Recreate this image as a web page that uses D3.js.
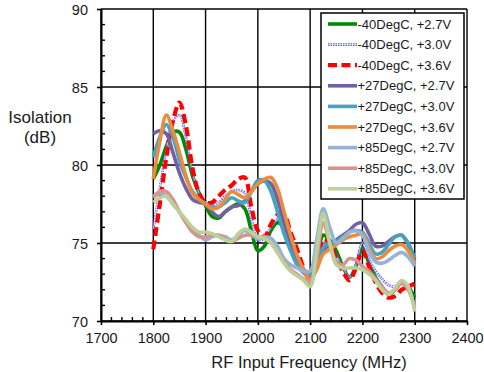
<!DOCTYPE html>
<html>
<head>
<meta charset="utf-8">
<script src="https://cdn.jsdelivr.net/npm/d3@7/dist/d3.min.js"></script>
<style>
  html, body { margin: 0; padding: 0; background: #fff; }
  svg { display: block; font-family: "Liberation Sans", Arial, sans-serif; }
</style>
</head>
<body>
<svg id="chart" width="484" height="372"></svg>
<script>
// Frequency sweep points (MHz)
const freq = [1800, 1812.5, 1825, 1837.5, 1850, 1862.5, 1875, 1887.5, 1900, 1912.5,
  1925, 1937.5, 1950, 1962.5, 1975, 1987.5, 2000, 2012.5, 2025, 2037.5,
  2050, 2062.5, 2075, 2087.5, 2100, 2112.5, 2125, 2137.5, 2150, 2162.5,
  2175, 2187.5, 2200, 2212.5, 2225, 2237.5, 2250, 2262.5, 2275, 2287.5, 2300];

// Isolation (dB) per temperature / supply condition
const m40_27 = [79.1, 80.0, 81.2, 82.1, 82.1, 81.0, 79.3, 78.2, 77.4, 76.7,
  76.6, 77.0, 77.3, 77.5, 77.2, 75.8, 74.5, 74.8, 75.8, 76.3,
  76.0, 75.2, 74.1, 73.3, 72.7, 73.8, 75.5, 75.2, 74.5, 73.5,
  72.8, 73.5, 74.7, 73.7, 72.8, 72.2, 71.7, 72.0, 72.5, 72.2, 71.5];
const m40_30 = [75.9, 78.5, 81.0, 82.8, 83.2, 81.8, 79.5, 78.2, 77.6, 77.4,
  77.6, 78.0, 78.3, 78.4, 78.2, 76.6, 75.2, 75.3, 76.0, 76.5,
  76.4, 75.4, 74.3, 73.3, 72.7, 73.5, 75.0, 74.9, 74.2, 73.5,
  72.8, 73.6, 75.0, 74.0, 73.2, 72.7, 72.3, 72.2, 72.4, 72.3, 72.3];
const m40_36 = [74.6, 77.5, 80.5, 82.8, 84.0, 82.5, 79.8, 78.2, 77.6, 77.6,
  78.0, 78.4, 78.7, 79.1, 79.2, 77.3, 75.8, 75.4, 76.2, 76.8,
  76.8, 75.7, 74.6, 73.4, 72.7, 73.5, 75.2, 75.0, 74.0, 73.2,
  72.6, 73.4, 74.5, 73.5, 72.5, 71.8, 71.5, 71.6, 72.0, 72.2, 72.4];
const p27_27 = [82.0, 82.2, 82.0, 80.8, 79.5, 78.5, 77.8, 77.6, 77.5, 77.0,
  76.7, 77.0, 77.3, 77.4, 77.7, 78.3, 78.8, 79.0, 78.8, 77.8,
  76.3, 75.0, 73.9, 73.1, 72.8, 73.5, 74.5, 74.9, 75.2, 75.5,
  75.8, 76.2, 76.3, 75.6, 74.8, 74.8, 75.1, 75.4, 75.5, 74.9, 73.9];
const p27_30 = [80.5, 81.8, 82.6, 81.8, 80.3, 79.2, 78.3, 77.8, 77.5, 77.3,
  77.3, 77.6, 77.9, 77.7, 77.6, 78.3, 79.0, 79.0, 78.3, 77.0,
  75.6, 74.5, 73.6, 73.1, 73.0, 73.8, 74.7, 75.0, 75.1, 75.4,
  75.7, 75.8, 75.7, 75.0, 74.3, 74.4, 74.9, 75.4, 75.5, 75.0, 74.0];
const p27_36 = [79.1, 81.5, 83.2, 82.2, 80.8, 79.3, 78.2, 77.8, 77.5, 77.2,
  77.3, 77.8, 78.3, 78.1, 77.9, 78.3, 78.8, 79.1, 79.2, 78.5,
  77.0, 75.5, 74.2, 73.3, 72.7, 73.3, 74.3, 74.6, 74.9, 75.2,
  75.4, 75.5, 75.6, 74.7, 74.0, 74.1, 74.5, 74.8, 74.9, 74.5, 73.7];
const p85_27 = [78.0, 78.2, 78.0, 77.5, 77.0, 76.4, 75.9, 75.5, 75.2, 75.4,
  75.5, 75.4, 75.2, 75.5, 75.8, 75.5, 75.3, 75.4, 75.3, 74.8,
  74.0, 73.6, 73.4, 73.2, 73.2, 75.2, 77.2, 76.0, 75.0, 75.3,
  75.7, 75.8, 75.5, 74.5, 73.8, 73.7, 73.9, 74.2, 74.4, 74.1, 73.5];
const p85_30 = [77.9, 78.3, 78.3, 77.8, 77.0, 76.3, 75.7, 75.4, 75.4, 75.5,
  75.5, 75.3, 75.1, 75.3, 75.5, 75.5, 75.4, 75.3, 75.0, 74.4,
  73.8, 73.3, 73.0, 72.7, 72.5, 74.0, 76.3, 75.0, 73.8, 73.6,
  74.0, 73.9, 73.5, 73.2, 72.7, 72.2, 71.8, 72.0, 72.4, 72.0, 70.9];
const p85_36 = [77.6, 77.9, 78.0, 77.5, 77.0, 76.5, 76.0, 75.7, 75.7, 75.6,
  75.4, 75.2, 75.1, 75.6, 75.9, 75.7, 75.4, 75.3, 75.0, 74.4,
  73.7, 73.2, 72.9, 72.6, 72.2, 74.5, 76.9, 75.0, 73.6, 73.4,
  73.4, 73.4, 73.3, 73.0, 72.6, 72.0, 71.7, 72.1, 72.6, 72.2, 70.6];

const seriesNames = ["-40DegC, +2.7V", "-40DegC, +3.0V", "-40DegC, +3.6V",
  "+27DegC, +2.7V", "+27DegC, +3.0V", "+27DegC, +3.6V",
  "+85DegC, +2.7V", "+85DegC, +3.0V", "+85DegC, +3.6V"];
const seriesValues = [m40_27, m40_30, m40_36, p27_27, p27_30, p27_36, p85_27, p85_30, p85_36];

const xTicks = [1700, 1800, 1900, 2000, 2100, 2200, 2300, 2400];
const yTicks = [70, 75, 80, 85, 90];

// Line styling for each series
const styles = [
  { color: "#008a00", width: 3.6 },
  { color: "#5a5aff", width: 2.6, dash: "1.6,0.9", dotted: true },
  { color: "#ff0000", width: 4.2, dash: "9,4.5" },
  { color: "#7460a0", width: 3.6 },
  { color: "#44a3bf", width: 3.6 },
  { color: "#e98c3f", width: 3.6 },
  { color: "#95b3d7", width: 3.6 },
  { color: "#d69593", width: 3.6 },
  { color: "#bcd198", width: 3.6 }
];

const svg = d3.select("#chart");
const plotL = 101, plotR = 467, plotT = 9, plotB = 321;

const x = d3.scaleLinear().domain([1700, 2400]).range([plotL, plotR]);
const y = d3.scaleLinear().domain([70, 90]).range([plotB, plotT]);

// Major grid
const grid = svg.append("g").attr("stroke", "#000").attr("stroke-width", 1.4);
xTicks.forEach(t => grid.append("line")
  .attr("x1", x(t)).attr("x2", x(t)).attr("y1", plotT).attr("y2", plotB));
yTicks.forEach(t => grid.append("line")
  .attr("x1", plotL).attr("x2", plotR).attr("y1", y(t)).attr("y2", y(t)));

// Axes with outward major ticks
const xAxis = svg.append("g").attr("transform", `translate(0,${plotB})`)
  .call(d3.axisBottom(x).tickValues(xTicks).tickSize(4).tickSizeOuter(0).tickFormat(d3.format("d")));
const yAxis = svg.append("g").attr("transform", `translate(${plotL},0)`)
  .call(d3.axisLeft(y).tickValues(yTicks).tickSize(4).tickSizeOuter(0).tickFormat(d3.format("d")));
[xAxis, yAxis].forEach(a => {
  a.select(".domain").attr("stroke", "#000").attr("stroke-width", 2);
  a.selectAll(".tick line").attr("stroke", "#000").attr("stroke-width", 1.6);
  a.selectAll(".tick text").attr("fill", "#1a1a1a").style("font-size", "14.5px")
    .style("font-family", "'Liberation Sans', Arial, sans-serif");
});
xAxis.selectAll(".tick text").attr("y", 12).attr("dy", "0.71em");
yAxis.selectAll(".tick text").attr("x", -13).attr("dy", "0.36em");

// Inward minor ticks
const minorX = d3.range(1700, 2401, 20).filter(v => v % 100 !== 0);
const minorY = d3.range(70, 91, 1).filter(v => v % 5 !== 0);
const minor = svg.append("g").attr("stroke", "#000").attr("stroke-width", 1.4);
minorX.forEach(v => minor.append("line")
  .attr("x1", x(v)).attr("x2", x(v)).attr("y1", plotB).attr("y2", plotB - 4));
minorY.forEach(v => minor.append("line")
  .attr("x1", plotL).attr("x2", plotL + 4).attr("y1", y(v)).attr("y2", y(v)));

// Data lines
const line = d3.line()
  .x((d, i) => x(freq[i]))
  .y(d => y(d))
  .curve(d3.curveCatmullRom.alpha(0.5));

const plot = svg.append("g");
seriesValues.forEach((vals, k) => {
  const s = styles[k];
  const p = plot.append("path").datum(vals).attr("d", line)
    .attr("fill", "none").attr("stroke", s.color).attr("stroke-width", s.width)
    .attr("stroke-linejoin", "round");
  if (s.dash) p.attr("stroke-dasharray", s.dash);
  if (s.dotted) {
    plot.append("path").datum(vals).attr("d", line)
      .attr("fill", "none").attr("stroke", "#ffffff").attr("stroke-width", 0.9)
      .attr("stroke-opacity", 0.7);
  }
});

// Legend
const lg = svg.append("g");
lg.append("rect").attr("x", 321).attr("y", 13).attr("width", 143).attr("height", 186)
  .attr("fill", "#fff").attr("stroke", "#000").attr("stroke-width", 1.5);
seriesNames.forEach((name, k) => {
  const s = styles[k];
  const yy = 24 + k * 20.6;
  const l = lg.append("line").attr("x1", 328).attr("x2", 357).attr("y1", yy).attr("y2", yy)
    .attr("stroke", s.color).attr("stroke-width", s.width);
  if (s.dash) l.attr("stroke-dasharray", s.dash);
  if (s.dotted) {
    lg.append("line").attr("x1", 328).attr("x2", 357).attr("y1", yy).attr("y2", yy)
      .attr("stroke", "#fff").attr("stroke-width", 0.9).attr("stroke-opacity", 0.7);
  }
  lg.append("text").attr("x", 357.5).attr("y", yy).attr("dy", "0.36em")
    .attr("fill", "#1a1a1a").style("font-size", "13px").text(name);
});

// Axis titles
svg.append("text").attr("x", 309).attr("y", 368).attr("text-anchor", "middle")
  .attr("fill", "#1a1a1a").style("font-size", "16.5px").text("RF Input Frequency (MHz)");
svg.append("text").attr("x", 40).attr("y", 123).attr("text-anchor", "middle")
  .attr("fill", "#1a1a1a").style("font-size", "17px").text("Isolation");
svg.append("text").attr("x", 40).attr("y", 143).attr("text-anchor", "middle")
  .attr("fill", "#1a1a1a").style("font-size", "17px").text("(dB)");
</script>
</body>
</html>
